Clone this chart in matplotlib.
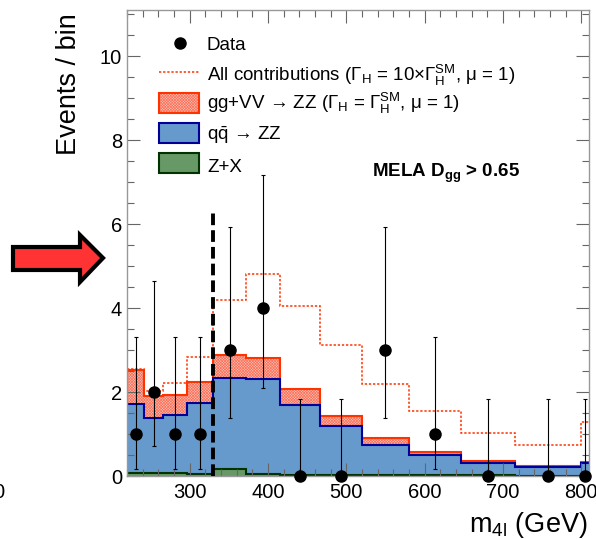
import numpy as np
import matplotlib
matplotlib.use('Agg')
import matplotlib.pyplot as plt
from matplotlib.patches import Rectangle, Polygon
from matplotlib.lines import Line2D
from matplotlib.ticker import MultipleLocator

plt.rcParams['font.family'] = ['Liberation Sans', 'DejaVu Sans']
plt.rcParams['mathtext.fontset'] = 'custom'
plt.rcParams['mathtext.rm'] = 'Liberation Sans'
plt.rcParams['mathtext.it'] = 'Liberation Sans:italic'
plt.rcParams['mathtext.bf'] = 'Liberation Sans:bold'
plt.rcParams['hatch.linewidth'] = 0.5

# ---------------- data ----------------
bin_edges = [220, 242, 266, 296, 330, 372, 416, 466, 520, 580, 646, 716, 800, 810]
data_counts = [1, 2, 1, 1, 3, 4, 0, 0, 3, 1, 0, 0, 0]
data_err_low = [0.83, 1.29, 0.83, 0.83, 1.63, 1.91, 0.0, 0.0, 1.63, 0.83, 0.0, 0.0, 0.0]
data_err_high = [2.30, 2.64, 2.30, 2.30, 2.92, 3.16, 1.84, 1.84, 2.92, 2.30, 1.84, 1.84, 1.84]
zx = [0.08, 0.08, 0.08, 0.04, 0.16, 0.04, 0.03, 0.03, 0.02, 0.02, 0.02, 0.01, 0.01]
qqzz = [1.63, 1.30, 1.38, 1.70, 2.18, 2.27, 1.65, 1.16, 0.73, 0.47, 0.30, 0.20, 0.30]
ggvv = [0.82, 0.52, 0.48, 0.50, 0.54, 0.51, 0.39, 0.24, 0.15, 0.08, 0.04, 0.04, 0.02]
all_contrib_10x = [2.56, 2.02, 2.21, 2.83, 4.20, 4.80, 4.06, 3.13, 2.20, 1.54, 1.03, 0.75, 1.29]
cut_value = 330
cut_line_top = 6.35

edges = np.array(bin_edges, dtype=float)
centers = 0.5 * (edges[:-1] + edges[1:])
zx_a = np.array(zx)
blue_top = zx_a + np.array(qqzz)
red_top = blue_top + np.array(ggvv)

# ---------------- figure ----------------
W, H = 596, 539
fig = plt.figure(figsize=(W / 100, H / 100), dpi=100)
ax = fig.add_axes([127 / W, 63 / H, 462 / W, 466 / H])

RED_EDGE = '#ff3300'
RED_FACE = '#ffc2b6'
RED_HATCH = '#f9735c'
HATCH = 'xxxxxxxxxxxx'
BLUE_FACE = '#6699cc'
BLUE_EDGE = '#000099'
GREEN_FACE = '#669966'
GREEN_EDGE = '#003300'

# stacked histograms
ax.stairs(red_top, edges, baseline=0, fill=True, facecolor=RED_FACE,
          hatch=HATCH, edgecolor=RED_HATCH, linewidth=0, zorder=1)
ax.stairs(red_top, edges, baseline=None, color=RED_EDGE, linewidth=1.5, zorder=1.1)
ax.stairs(blue_top, edges, baseline=0, fill=True, facecolor=BLUE_FACE,
          edgecolor=BLUE_FACE, linewidth=0, zorder=1.2)
ax.stairs(blue_top, edges, baseline=None, color=BLUE_EDGE, linewidth=1.5, zorder=1.3)
ax.stairs(zx_a, edges, baseline=0, fill=True, facecolor=GREEN_FACE,
          edgecolor=GREEN_FACE, linewidth=0, zorder=1.4)
ax.stairs(zx_a, edges, baseline=None, color=GREEN_EDGE, linewidth=1.5, zorder=1.5)

# all contributions (10x width)
ax.stairs(all_contrib_10x, edges, baseline=None, color=RED_EDGE, linewidth=1.1,
          linestyle=(0, (1.5, 1.2)), zorder=2)

# cut line
ax.plot([cut_value, cut_value], [0, cut_line_top], color='k', lw=2.8,
        dashes=(3.0, 1.3), zorder=3)

# data
eb = ax.errorbar(centers, data_counts, yerr=[data_err_low, data_err_high], fmt='o',
                 color='k', ms=8, elinewidth=0.8, capsize=1.5, capthick=0.8, zorder=5)
eb[0].set_clip_on(False)

# axes
ax.set_xlim(220, 810)
ax.set_ylim(0, 11.1)
ax.xaxis.set_major_locator(MultipleLocator(100))
ax.xaxis.set_minor_locator(MultipleLocator(20))
ax.yaxis.set_major_locator(MultipleLocator(2))
ax.yaxis.set_minor_locator(MultipleLocator(0.5))
ax.tick_params(which='both', direction='in', top=True, right=True, color='#666666')
ax.tick_params(which='major', length=9.4, width=0.8, labelsize=14.5)
ax.tick_params(which='minor', length=5, width=0.8)
ax.tick_params(axis='x', which='major', pad=5)
for s in ax.spines.values():
    s.set_color('#999999')
    s.set_linewidth(1.0)

ax.set_ylabel('Events / bin', fontsize=19.5, loc='top')
ax.yaxis.set_label_coords(-0.097, 0.994)
ax.set_xlabel(r'm$_{\rm 4l}$ (GeV)', fontsize=19.5, loc='right')
ax.xaxis.set_label_coords(0.996, -0.073)

# ---------------- legend (manual) ----------------
def ax_x(px):
    return (px - 127) / 462.0

def ax_y(py):
    return (476 - py) / 466.0

fs_leg = 13.5
tx = ax_x(207)
bx0, bw = ax_x(159), (199 - 159) / 462.0
bh = 20 / 466.0

ax.plot([ax_x(180)], [ax_y(43)], 'o', color='k', ms=8, transform=ax.transAxes, clip_on=False)
ax.text(tx, ax_y(50), 'Data', fontsize=fs_leg, transform=ax.transAxes, va='baseline')

ax.add_line(Line2D([bx0, bx0 + bw], [ax_y(72), ax_y(72)], color=RED_EDGE, lw=1.1,
                   linestyle=(0, (1.5, 1.2)), transform=ax.transAxes))
ax.text(tx, ax_y(80.5), r'All contributions (Γ$_{\rm H}$ = 10×Γ$_{\rm H}^{\rm SM}$, μ = 1)',
        fontsize=fs_leg, transform=ax.transAxes, va='baseline')

ax.add_patch(Rectangle((bx0, ax_y(113)), bw, bh, transform=ax.transAxes, facecolor=RED_FACE,
                       hatch=HATCH, edgecolor=RED_HATCH, lw=0))
ax.add_patch(Rectangle((bx0, ax_y(113)), bw, bh, transform=ax.transAxes, fill=False,
                       edgecolor=RED_EDGE, lw=1.5))
ax.text(tx, ax_y(109), r'gg+VV → ZZ (Γ$_{\rm H}$ = Γ$_{\rm H}^{\rm SM}$, μ = 1)',
        fontsize=fs_leg, transform=ax.transAxes, va='baseline')

ax.add_patch(Rectangle((bx0, ax_y(143)), bw, bh, transform=ax.transAxes, facecolor=BLUE_FACE,
                       edgecolor=BLUE_EDGE, lw=1.5))
ax.text(tx, ax_y(140), r'q$\bar{\rm q}$ → ZZ', fontsize=fs_leg,
        transform=ax.transAxes, va='baseline')

ax.add_patch(Rectangle((bx0, ax_y(173)), bw, bh, transform=ax.transAxes, facecolor=GREEN_FACE,
                       edgecolor=GREEN_EDGE, lw=1.5))
ax.text(tx, ax_y(171.5), 'Z+X', fontsize=fs_leg, transform=ax.transAxes, va='baseline')

ax.text(ax_x(372), ax_y(176.7), r'MELA D$_{\bf gg}$ > 0.65', fontsize=13.5, fontweight='bold',
        transform=ax.transAxes, va='baseline')

# ---------------- decorations outside the axes ----------------
def fx(px):
    return px / W

def fy(py):
    return (H - py) / H

arrow_px = [(13, 247), (80, 247), (80, 235), (103, 258), (80, 282), (80, 270), (13, 270)]
fig.patches.append(Polygon([(fx(x), fy(y)) for x, y in arrow_px], closed=True,
                           transform=fig.transFigure, facecolor='#ff3333',
                           edgecolor='k', lw=3.0, joinstyle='miter'))

fig.text(fx(4), fy(492), '0', fontsize=14.5, ha='right', va='center')

fig.savefig('out.png', dpi=100)
